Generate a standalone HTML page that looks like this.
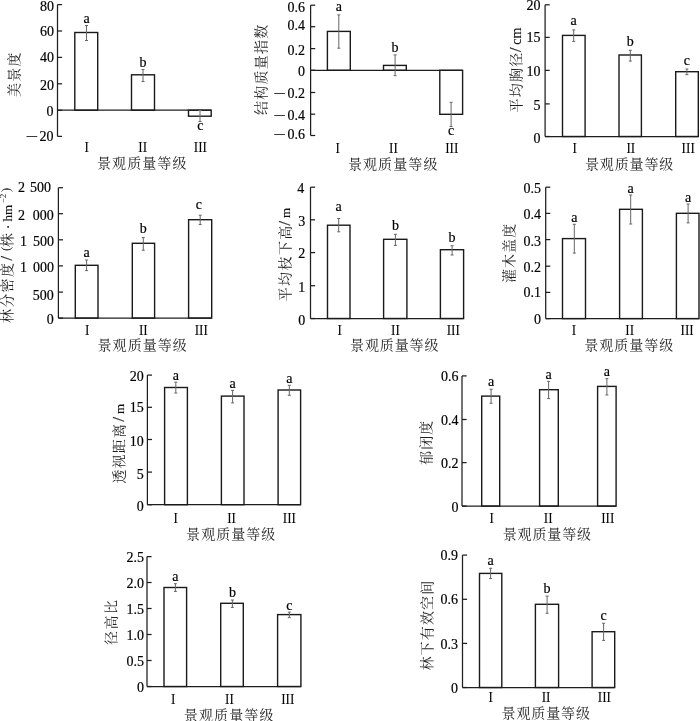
<!DOCTYPE html>
<html><head><meta charset="utf-8"><title>figure</title>
<style>
html,body{margin:0;padding:0;background:#fff;}
body{width:700px;height:721px;overflow:hidden;}
svg{display:block;will-change:transform;}
text.n{font-family:'Liberation Serif', 'Times New Roman', serif;font-size:14px;fill:#000;stroke:#000;stroke-width:0.18px;}
text.mn{font-family:'Liberation Serif', 'Times New Roman', serif;font-size:14px;fill:#111;}
text.l{font-family:'Liberation Serif', 'Times New Roman', serif;font-size:14px;fill:#000;stroke:#000;stroke-width:0.18px;}
text.r{font-family:'Liberation Serif', 'Times New Roman', serif;font-size:15.5px;fill:#000;stroke:#000;stroke-width:0.05px;letter-spacing:0px;}
text.c{font-family:'Liberation Serif', 'Noto Serif CJK SC', serif;font-size:14px;fill:#1e1e1e;}
.yc{font-family:'Liberation Serif', 'Noto Serif CJK SC', serif;font-size:14px;fill:#1e1e1e;}
.y14{font-family:'Liberation Serif', 'Times New Roman', serif;font-size:14px;fill:#111;stroke:#111;stroke-width:0.15px;}
.y13{font-family:'Liberation Serif', 'Times New Roman', serif;font-size:13px;fill:#111;stroke:#111;stroke-width:0.15px;}
.y16{font-family:'Liberation Serif', 'Times New Roman', serif;font-size:16px;fill:#222;stroke:#222;stroke-width:0.25px;}
.yp{font-family:'Liberation Serif', 'Times New Roman', serif;font-size:13.5px;fill:#222;}
.ys{font-family:'Liberation Serif', 'Times New Roman', serif;font-size:9px;fill:#222;}
</style></head>
<body>
<svg width="700" height="721" viewBox="0 0 700 721">
<rect width="700" height="721" fill="#fff"/>
<path d="M57.5 4.6V136.4" stroke="#1e1e1e" stroke-width="1.25" fill="none"/>
<path d="M57.5 4.6H62.1" stroke="#1e1e1e" stroke-width="1.25"/>
<text class="n" x="54" y="10.75" text-anchor="end">80</text>
<path d="M57.5 31H62.1" stroke="#1e1e1e" stroke-width="1.25"/>
<text class="n" x="54" y="36.4" text-anchor="end">60</text>
<path d="M57.5 57.4H62.1" stroke="#1e1e1e" stroke-width="1.25"/>
<text class="n" x="54" y="62.35" text-anchor="end">40</text>
<path d="M57.5 83.8H62.1" stroke="#1e1e1e" stroke-width="1.25"/>
<text class="n" x="54" y="89.85" text-anchor="end">20</text>
<path d="M57.5 110.2H62.1" stroke="#1e1e1e" stroke-width="1.25"/>
<text class="n" x="53.6" y="116.1" text-anchor="end">0</text>
<path d="M57.5 136.4H62.1" stroke="#1e1e1e" stroke-width="1.25"/>
<text class="n" x="53.6" y="140.6" text-anchor="end">20</text>
<text class="n" transform="translate(38.3 140.6) scale(1.6 1)" text-anchor="end">−</text>
<path d="M57.5 110.2H211.2" stroke="#1e1e1e" stroke-width="1.25"/>
<rect x="74.8" y="32.5" width="22.9" height="77.7" fill="none" stroke="#1a1a1a" stroke-width="1.4"/>
<rect x="131.5" y="74.8" width="23" height="35.4" fill="none" stroke="#1a1a1a" stroke-width="1.4"/>
<rect x="188.5" y="110.2" width="22.7" height="6" fill="none" stroke="#1a1a1a" stroke-width="1.4"/>
<path d="M86.5 25.5V40.5 M85 25.5H88 M85 40.5H88" stroke="#666" stroke-width="1.0" fill="none"/>
<path d="M143 69.5V81.5 M141.5 69.5H144.5 M141.5 81.5H144.5" stroke="#666" stroke-width="1.0" fill="none"/>
<path d="M200 110.5V121.5 M198.5 110.5H201.5 M198.5 121.5H201.5" stroke="#666" stroke-width="1.0" fill="none"/>
<text class="l" x="86.5" y="23.3" text-anchor="middle">a</text>
<text class="l" x="143" y="67.3" text-anchor="middle">b</text>
<text class="l" x="200.3" y="130" text-anchor="middle">c</text>
<text class="r" transform="translate(86.6 152.1) scale(0.85 1)" text-anchor="middle">I</text>
<text class="r" transform="translate(142.7 152.1) scale(0.85 1)" text-anchor="middle">II</text>
<text class="r" transform="translate(200.4 152.1) scale(0.85 1)" text-anchor="middle">III</text>
<text class="c" x="97" y="167.5" textLength="89.4" lengthAdjust="spacing">景观质量等级</text>
<path d="M310.6 5.2V135.5" stroke="#1e1e1e" stroke-width="1.25" fill="none"/>
<path d="M310.6 5.2H315.2" stroke="#1e1e1e" stroke-width="1.25"/>
<text class="n" x="305" y="11.85" text-anchor="end">0.6</text>
<path d="M310.6 26.7H315.2" stroke="#1e1e1e" stroke-width="1.25"/>
<text class="n" x="305" y="30.35" text-anchor="end">0.4</text>
<path d="M310.6 48.6H315.2" stroke="#1e1e1e" stroke-width="1.25"/>
<text class="n" x="305" y="54.85" text-anchor="end">0.2</text>
<path d="M310.6 70.3H315.2" stroke="#1e1e1e" stroke-width="1.25"/>
<text class="n" x="305" y="76.1" text-anchor="end">0</text>
<path d="M310.6 92.5H315.2" stroke="#1e1e1e" stroke-width="1.25"/>
<text class="n" x="305" y="97.8" text-anchor="end">0.2</text>
<text class="n" transform="translate(286.2 97.8) scale(1.6 1)" text-anchor="end">−</text>
<path d="M310.6 114.2H315.2" stroke="#1e1e1e" stroke-width="1.25"/>
<text class="n" x="305" y="119.9" text-anchor="end">0.4</text>
<text class="n" transform="translate(286.2 119.9) scale(1.6 1)" text-anchor="end">−</text>
<path d="M310.6 135.5H315.2" stroke="#1e1e1e" stroke-width="1.25"/>
<text class="n" x="305" y="139.4" text-anchor="end">0.6</text>
<text class="n" transform="translate(286.2 139.4) scale(1.6 1)" text-anchor="end">−</text>
<path d="M310.6 70.3H462.6" stroke="#1e1e1e" stroke-width="1.25"/>
<rect x="327.4" y="31.4" width="22.9" height="38.9" fill="none" stroke="#1a1a1a" stroke-width="1.4"/>
<rect x="383.5" y="65.4" width="22.8" height="4.9" fill="none" stroke="#1a1a1a" stroke-width="1.4"/>
<rect x="439.8" y="70.3" width="22.8" height="44" fill="none" stroke="#1a1a1a" stroke-width="1.4"/>
<path d="M338.8 14.9V48.2 M337.3 14.9H340.3 M337.3 48.2H340.3" stroke="#666" stroke-width="1.0" fill="none"/>
<path d="M395.1 54.9V75.7 M393.6 54.9H396.6 M393.6 75.7H396.6" stroke="#666" stroke-width="1.0" fill="none"/>
<path d="M451.1 102.3V126.5 M449.6 102.3H452.6 M449.6 126.5H452.6" stroke="#666" stroke-width="1.0" fill="none"/>
<text class="l" x="338.8" y="11.3" text-anchor="middle">a</text>
<text class="l" x="395.1" y="51.5" text-anchor="middle">b</text>
<text class="l" x="451.1" y="135.2" text-anchor="middle">c</text>
<text class="r" transform="translate(337.8 153.1) scale(0.85 1)" text-anchor="middle">I</text>
<text class="r" transform="translate(393.5 153.1) scale(0.85 1)" text-anchor="middle">II</text>
<text class="r" transform="translate(451.8 153.1) scale(0.85 1)" text-anchor="middle">III</text>
<text class="c" x="347.9" y="169" textLength="89.5" lengthAdjust="spacing">景观质量等级</text>
<path d="M545.1 4.8V136.5" stroke="#1e1e1e" stroke-width="1.25" fill="none"/>
<path d="M545.1 4.8H549.7" stroke="#1e1e1e" stroke-width="1.25"/>
<text class="n" x="540.4" y="9.85" text-anchor="end">20</text>
<path d="M545.1 37.4H549.7" stroke="#1e1e1e" stroke-width="1.25"/>
<text class="n" x="540.4" y="42.1" text-anchor="end">15</text>
<path d="M545.1 70.4H549.7" stroke="#1e1e1e" stroke-width="1.25"/>
<text class="n" x="540.4" y="75.85" text-anchor="end">10</text>
<path d="M545.1 103.9H549.7" stroke="#1e1e1e" stroke-width="1.25"/>
<text class="n" x="540.4" y="109.6" text-anchor="end">5</text>
<path d="M545.1 136.5H549.7" stroke="#1e1e1e" stroke-width="1.25"/>
<text class="n" x="540.4" y="142.8" text-anchor="end">0</text>
<path d="M545.1 136.5H698.3" stroke="#1e1e1e" stroke-width="1.25"/>
<rect x="562.5" y="35.4" width="22.6" height="101.1" fill="none" stroke="#1a1a1a" stroke-width="1.4"/>
<rect x="619" y="55" width="22.4" height="81.5" fill="none" stroke="#1a1a1a" stroke-width="1.4"/>
<rect x="675.7" y="71.7" width="22.6" height="64.8" fill="none" stroke="#1a1a1a" stroke-width="1.4"/>
<path d="M573.7 29.9V41.4 M572.2 29.9H575.2 M572.2 41.4H575.2" stroke="#666" stroke-width="1.0" fill="none"/>
<path d="M630.3 50.3V61.1 M628.8 50.3H631.8 M628.8 61.1H631.8" stroke="#666" stroke-width="1.0" fill="none"/>
<path d="M686.9 69V74.7 M685.4 69H688.4 M685.4 74.7H688.4" stroke="#666" stroke-width="1.0" fill="none"/>
<text class="l" x="573.7" y="24.9" text-anchor="middle">a</text>
<text class="l" x="630.3" y="45.5" text-anchor="middle">b</text>
<text class="l" x="686.9" y="64.8" text-anchor="middle">c</text>
<text class="r" transform="translate(574.6 152.5) scale(0.85 1)" text-anchor="middle">I</text>
<text class="r" transform="translate(630.8 152.5) scale(0.85 1)" text-anchor="middle">II</text>
<text class="r" transform="translate(688.2 152.5) scale(0.85 1)" text-anchor="middle">III</text>
<text class="c" x="585" y="169" textLength="88.3" lengthAdjust="spacing">景观质量等级</text>
<path d="M58.4 187.7V318.1" stroke="#1e1e1e" stroke-width="1.25" fill="none"/>
<path d="M58.4 187.7H63" stroke="#1e1e1e" stroke-width="1.25"/>
<text class="n" x="24.9" y="192.45" text-anchor="end">2</text>
<text class="n" x="51" y="192.45" text-anchor="end">500</text>
<path d="M58.4 213.7H63" stroke="#1e1e1e" stroke-width="1.25"/>
<text class="n" x="24.9" y="219.75" text-anchor="end">2</text>
<text class="n" x="53.8" y="219.75" text-anchor="end">000</text>
<path d="M58.4 239.8H63" stroke="#1e1e1e" stroke-width="1.25"/>
<text class="n" x="27" y="246.25" text-anchor="end">1</text>
<text class="n" x="54" y="246.25" text-anchor="end">500</text>
<path d="M58.4 265.9H63" stroke="#1e1e1e" stroke-width="1.25"/>
<text class="n" x="27" y="272.05" text-anchor="end">1</text>
<text class="n" x="54" y="272.05" text-anchor="end">000</text>
<path d="M58.4 292.1H63" stroke="#1e1e1e" stroke-width="1.25"/>
<text class="n" x="53.7" y="299.65" text-anchor="end">500</text>
<path d="M58.4 318.1H63" stroke="#1e1e1e" stroke-width="1.25"/>
<text class="n" x="53.7" y="323.6" text-anchor="end">0</text>
<path d="M58.4 318.1H211.7" stroke="#1e1e1e" stroke-width="1.25"/>
<rect x="75.3" y="265.3" width="22.7" height="52.8" fill="none" stroke="#1a1a1a" stroke-width="1.4"/>
<rect x="132.3" y="243.3" width="22.3" height="74.8" fill="none" stroke="#1a1a1a" stroke-width="1.4"/>
<rect x="188.6" y="219.7" width="23.1" height="98.4" fill="none" stroke="#1a1a1a" stroke-width="1.4"/>
<path d="M86.6 260V270.6 M85.1 260H88.1 M85.1 270.6H88.1" stroke="#666" stroke-width="1.0" fill="none"/>
<path d="M143.3 237.6V250.2 M141.8 237.6H144.8 M141.8 250.2H144.8" stroke="#666" stroke-width="1.0" fill="none"/>
<path d="M200.2 215.2V224.6 M198.7 215.2H201.7 M198.7 224.6H201.7" stroke="#666" stroke-width="1.0" fill="none"/>
<text class="l" x="86.6" y="256.6" text-anchor="middle">a</text>
<text class="l" x="143.3" y="232.9" text-anchor="middle">b</text>
<text class="l" x="198.8" y="208.9" text-anchor="middle">c</text>
<text class="r" transform="translate(87.2 334.8) scale(0.85 1)" text-anchor="middle">I</text>
<text class="r" transform="translate(143.3 334.8) scale(0.85 1)" text-anchor="middle">II</text>
<text class="r" transform="translate(201.3 334.8) scale(0.85 1)" text-anchor="middle">III</text>
<text class="c" x="97.6" y="350.2" textLength="89.1" lengthAdjust="spacing">景观质量等级</text>
<path d="M310.5 187.2V318.5" stroke="#1e1e1e" stroke-width="1.25" fill="none"/>
<path d="M310.5 187.2H315.1" stroke="#1e1e1e" stroke-width="1.25"/>
<text class="n" x="304.2" y="192.6" text-anchor="end">4</text>
<path d="M310.5 219.8H315.1" stroke="#1e1e1e" stroke-width="1.25"/>
<text class="n" x="305.2" y="226.35" text-anchor="end">3</text>
<path d="M310.5 252.6H315.1" stroke="#1e1e1e" stroke-width="1.25"/>
<text class="n" x="305.2" y="258.35" text-anchor="end">2</text>
<path d="M310.5 285.7H315.1" stroke="#1e1e1e" stroke-width="1.25"/>
<text class="n" x="305.2" y="291.95" text-anchor="end">1</text>
<path d="M310.5 318.5H315.1" stroke="#1e1e1e" stroke-width="1.25"/>
<text class="n" x="305.2" y="324.6" text-anchor="end">0</text>
<path d="M310.5 318.5H463.6" stroke="#1e1e1e" stroke-width="1.25"/>
<rect x="327.5" y="225.2" width="22.5" height="93.3" fill="none" stroke="#1a1a1a" stroke-width="1.4"/>
<rect x="383.6" y="239.3" width="23.3" height="79.2" fill="none" stroke="#1a1a1a" stroke-width="1.4"/>
<rect x="440.4" y="249.7" width="23.2" height="68.8" fill="none" stroke="#1a1a1a" stroke-width="1.4"/>
<path d="M338.7 218.5V231.8 M337.2 218.5H340.2 M337.2 231.8H340.2" stroke="#666" stroke-width="1.0" fill="none"/>
<path d="M395.4 234.3V245.4 M393.9 234.3H396.9 M393.9 245.4H396.9" stroke="#666" stroke-width="1.0" fill="none"/>
<path d="M452.1 245.7V255 M450.6 245.7H453.6 M450.6 255H453.6" stroke="#666" stroke-width="1.0" fill="none"/>
<text class="l" x="338.7" y="211.3" text-anchor="middle">a</text>
<text class="l" x="395.4" y="230.2" text-anchor="middle">b</text>
<text class="l" x="452.1" y="242.2" text-anchor="middle">b</text>
<text class="r" transform="translate(339.7 334.7) scale(0.85 1)" text-anchor="middle">I</text>
<text class="r" transform="translate(395.4 334.7) scale(0.85 1)" text-anchor="middle">II</text>
<text class="r" transform="translate(453.3 334.7) scale(0.85 1)" text-anchor="middle">III</text>
<text class="c" x="350" y="350.3" textLength="88.5" lengthAdjust="spacing">景观质量等级</text>
<path d="M545.7 187.2V318.6" stroke="#1e1e1e" stroke-width="1.25" fill="none"/>
<path d="M545.7 187.2H550.3" stroke="#1e1e1e" stroke-width="1.25"/>
<text class="n" x="541.1" y="192.85" text-anchor="end">0.5</text>
<path d="M545.7 213.4H550.3" stroke="#1e1e1e" stroke-width="1.25"/>
<text class="n" x="541.1" y="218.85" text-anchor="end">0.4</text>
<path d="M545.7 239.6H550.3" stroke="#1e1e1e" stroke-width="1.25"/>
<text class="n" x="541.1" y="245.85" text-anchor="end">0.3</text>
<path d="M545.7 266.2H550.3" stroke="#1e1e1e" stroke-width="1.25"/>
<text class="n" x="541.1" y="272.35" text-anchor="end">0.2</text>
<path d="M545.7 292.4H550.3" stroke="#1e1e1e" stroke-width="1.25"/>
<text class="n" x="541.1" y="296.85" text-anchor="end">0.1</text>
<path d="M545.7 318.6H550.3" stroke="#1e1e1e" stroke-width="1.25"/>
<text class="n" x="541.1" y="323.9" text-anchor="end">0</text>
<path d="M545.7 318.6H699" stroke="#1e1e1e" stroke-width="1.25"/>
<rect x="562.5" y="238.6" width="23" height="80" fill="none" stroke="#1a1a1a" stroke-width="1.4"/>
<rect x="619.6" y="209.3" width="22.8" height="109.3" fill="none" stroke="#1a1a1a" stroke-width="1.4"/>
<rect x="676.4" y="213.3" width="22.6" height="105.3" fill="none" stroke="#1a1a1a" stroke-width="1.4"/>
<path d="M574.3 224.3V253.1 M572.8 224.3H575.8 M572.8 253.1H575.8" stroke="#666" stroke-width="1.0" fill="none"/>
<path d="M630.7 195V224 M629.2 195H632.2 M629.2 224H632.2" stroke="#666" stroke-width="1.0" fill="none"/>
<path d="M688.1 204V222.9 M686.6 204H689.6 M686.6 222.9H689.6" stroke="#666" stroke-width="1.0" fill="none"/>
<text class="l" x="574.3" y="221.5" text-anchor="middle">a</text>
<text class="l" x="630.7" y="192.7" text-anchor="middle">a</text>
<text class="l" x="688.1" y="201.5" text-anchor="middle">a</text>
<text class="r" transform="translate(574 334.9) scale(0.85 1)" text-anchor="middle">I</text>
<text class="r" transform="translate(629.7 334.9) scale(0.85 1)" text-anchor="middle">II</text>
<text class="r" transform="translate(687.1 334.9) scale(0.85 1)" text-anchor="middle">III</text>
<text class="c" x="584.3" y="350.3" textLength="88.9" lengthAdjust="spacing">景观质量等级</text>
<path d="M147.4 375.1V504.7" stroke="#1e1e1e" stroke-width="1.25" fill="none"/>
<path d="M147.4 375.1H152" stroke="#1e1e1e" stroke-width="1.25"/>
<text class="n" x="143.8" y="381.1" text-anchor="end">20</text>
<path d="M147.4 407.3H152" stroke="#1e1e1e" stroke-width="1.25"/>
<text class="n" x="143.8" y="412.35" text-anchor="end">15</text>
<path d="M147.4 439.5H152" stroke="#1e1e1e" stroke-width="1.25"/>
<text class="n" x="143.8" y="446.1" text-anchor="end">10</text>
<path d="M147.4 472.1H152" stroke="#1e1e1e" stroke-width="1.25"/>
<text class="n" x="143.8" y="478.75" text-anchor="end">5</text>
<path d="M147.4 504.7H152" stroke="#1e1e1e" stroke-width="1.25"/>
<text class="n" x="143.8" y="510.85" text-anchor="end">0</text>
<path d="M147.4 504.7H300.6" stroke="#1e1e1e" stroke-width="1.25"/>
<rect x="164.6" y="387.5" width="22.8" height="117.2" fill="none" stroke="#1a1a1a" stroke-width="1.4"/>
<rect x="221.4" y="396.1" width="22.6" height="108.6" fill="none" stroke="#1a1a1a" stroke-width="1.4"/>
<rect x="278.1" y="390" width="22.5" height="114.7" fill="none" stroke="#1a1a1a" stroke-width="1.4"/>
<path d="M175.8 382.1V393 M174.3 382.1H177.3 M174.3 393H177.3" stroke="#666" stroke-width="1.0" fill="none"/>
<path d="M232.6 390.4V402.9 M231.1 390.4H234.1 M231.1 402.9H234.1" stroke="#666" stroke-width="1.0" fill="none"/>
<path d="M289.3 385.3V395.3 M287.8 385.3H290.8 M287.8 395.3H290.8" stroke="#666" stroke-width="1.0" fill="none"/>
<text class="l" x="175.8" y="379.7" text-anchor="middle">a</text>
<text class="l" x="232.6" y="388.1" text-anchor="middle">a</text>
<text class="l" x="289.3" y="383.1" text-anchor="middle">a</text>
<text class="r" transform="translate(175.8 523.2) scale(0.85 1)" text-anchor="middle">I</text>
<text class="r" transform="translate(231.6 523.2) scale(0.85 1)" text-anchor="middle">II</text>
<text class="r" transform="translate(289.4 523.2) scale(0.85 1)" text-anchor="middle">III</text>
<text class="c" x="186.1" y="539.3" textLength="89.2" lengthAdjust="spacing">景观质量等级</text>
<path d="M462 375.9V506.1" stroke="#1e1e1e" stroke-width="1.25" fill="none"/>
<path d="M462 375.9H466.6" stroke="#1e1e1e" stroke-width="1.25"/>
<text class="n" x="458.6" y="381.35" text-anchor="end">0.6</text>
<path d="M462 419.5H466.6" stroke="#1e1e1e" stroke-width="1.25"/>
<text class="n" x="458.6" y="425.35" text-anchor="end">0.4</text>
<path d="M462 462.6H466.6" stroke="#1e1e1e" stroke-width="1.25"/>
<text class="n" x="458.6" y="467.6" text-anchor="end">0.2</text>
<path d="M462 506.1H466.6" stroke="#1e1e1e" stroke-width="1.25"/>
<text class="n" x="458.6" y="511.6" text-anchor="end">0</text>
<path d="M462 506.1H616.1" stroke="#1e1e1e" stroke-width="1.25"/>
<rect x="481.7" y="396.1" width="18" height="110" fill="none" stroke="#1a1a1a" stroke-width="1.4"/>
<rect x="539.6" y="389.7" width="18.7" height="116.4" fill="none" stroke="#1a1a1a" stroke-width="1.4"/>
<rect x="597.6" y="386.4" width="18.5" height="119.7" fill="none" stroke="#1a1a1a" stroke-width="1.4"/>
<path d="M491.1 389.3V403.3 M489.6 389.3H492.6 M489.6 403.3H492.6" stroke="#666" stroke-width="1.0" fill="none"/>
<path d="M548.6 381.4V398.6 M547.1 381.4H550.1 M547.1 398.6H550.1" stroke="#666" stroke-width="1.0" fill="none"/>
<path d="M606.9 378.6V395 M605.4 378.6H608.4 M605.4 395H608.4" stroke="#666" stroke-width="1.0" fill="none"/>
<text class="l" x="491.1" y="385.9" text-anchor="middle">a</text>
<text class="l" x="548.6" y="379.1" text-anchor="middle">a</text>
<text class="l" x="606.9" y="376.2" text-anchor="middle">a</text>
<text class="r" transform="translate(491.7 522.8) scale(0.85 1)" text-anchor="middle">I</text>
<text class="r" transform="translate(548.2 522.8) scale(0.85 1)" text-anchor="middle">II</text>
<text class="r" transform="translate(607.8 522.8) scale(0.85 1)" text-anchor="middle">III</text>
<text class="c" x="502.7" y="539.3" textLength="88.4" lengthAdjust="spacing">景观质量等级</text>
<path d="M147 556.6V686.5" stroke="#1e1e1e" stroke-width="1.25" fill="none"/>
<path d="M147 556.6H151.6" stroke="#1e1e1e" stroke-width="1.25"/>
<text class="n" x="144" y="561.85" text-anchor="end">2.5</text>
<path d="M147 582.5H151.6" stroke="#1e1e1e" stroke-width="1.25"/>
<text class="n" x="144" y="587.85" text-anchor="end">2.0</text>
<path d="M147 608.5H151.6" stroke="#1e1e1e" stroke-width="1.25"/>
<text class="n" x="144" y="613.85" text-anchor="end">1.5</text>
<path d="M147 634.5H151.6" stroke="#1e1e1e" stroke-width="1.25"/>
<text class="n" x="144" y="639.85" text-anchor="end">1.0</text>
<path d="M147 660.5H151.6" stroke="#1e1e1e" stroke-width="1.25"/>
<text class="n" x="144" y="666.35" text-anchor="end">0.5</text>
<path d="M147 686.5H151.6" stroke="#1e1e1e" stroke-width="1.25"/>
<text class="n" x="144" y="691.9" text-anchor="end">0</text>
<path d="M147 686.5H300.9" stroke="#1e1e1e" stroke-width="1.25"/>
<rect x="164" y="587.5" width="22.6" height="99" fill="none" stroke="#1a1a1a" stroke-width="1.4"/>
<rect x="220.7" y="603.3" width="22.6" height="83.2" fill="none" stroke="#1a1a1a" stroke-width="1.4"/>
<rect x="277.6" y="614.6" width="23.3" height="71.9" fill="none" stroke="#1a1a1a" stroke-width="1.4"/>
<path d="M175.4 583.7V591.4 M173.9 583.7H176.9 M173.9 591.4H176.9" stroke="#666" stroke-width="1.0" fill="none"/>
<path d="M232.4 600V607.4 M230.9 600H233.9 M230.9 607.4H233.9" stroke="#666" stroke-width="1.0" fill="none"/>
<path d="M289.3 612.1V617.6 M287.8 612.1H290.8 M287.8 617.6H290.8" stroke="#666" stroke-width="1.0" fill="none"/>
<text class="l" x="175.4" y="580.7" text-anchor="middle">a</text>
<text class="l" x="232.4" y="597.4" text-anchor="middle">b</text>
<text class="l" x="289.3" y="610.2" text-anchor="middle">c</text>
<text class="r" transform="translate(173.3 703.6) scale(0.85 1)" text-anchor="middle">I</text>
<text class="r" transform="translate(229.5 703.6) scale(0.85 1)" text-anchor="middle">II</text>
<text class="r" transform="translate(287.8 703.6) scale(0.85 1)" text-anchor="middle">III</text>
<text class="c" x="183.8" y="719.5" textLength="89.6" lengthAdjust="spacing">景观质量等级</text>
<path d="M462.5 555.1V687.5" stroke="#1e1e1e" stroke-width="1.25" fill="none"/>
<path d="M462.5 555.1H467.1" stroke="#1e1e1e" stroke-width="1.25"/>
<text class="n" x="458" y="559.85" text-anchor="end">0.9</text>
<path d="M462.5 599.3H467.1" stroke="#1e1e1e" stroke-width="1.25"/>
<text class="n" x="458" y="603.85" text-anchor="end">0.6</text>
<path d="M462.5 643.4H467.1" stroke="#1e1e1e" stroke-width="1.25"/>
<text class="n" x="458" y="648.85" text-anchor="end">0.3</text>
<path d="M462.5 687.5H467.1" stroke="#1e1e1e" stroke-width="1.25"/>
<text class="n" x="458" y="693.1" text-anchor="end">0</text>
<path d="M462.5 687.5H614.7" stroke="#1e1e1e" stroke-width="1.25"/>
<rect x="479.5" y="573.4" width="22.3" height="114.1" fill="none" stroke="#1a1a1a" stroke-width="1.4"/>
<rect x="535.4" y="604.3" width="23.2" height="83.2" fill="none" stroke="#1a1a1a" stroke-width="1.4"/>
<rect x="592.1" y="631.7" width="22.6" height="55.8" fill="none" stroke="#1a1a1a" stroke-width="1.4"/>
<path d="M490.6 568.3V578.6 M489.1 568.3H492.1 M489.1 578.6H492.1" stroke="#666" stroke-width="1.0" fill="none"/>
<path d="M547.1 596.1V613.3 M545.6 596.1H548.6 M545.6 613.3H548.6" stroke="#666" stroke-width="1.0" fill="none"/>
<path d="M603.6 623.3V640.4 M602.1 623.3H605.1 M602.1 640.4H605.1" stroke="#666" stroke-width="1.0" fill="none"/>
<text class="l" x="490.6" y="565.2" text-anchor="middle">a</text>
<text class="l" x="547.1" y="592.7" text-anchor="middle">b</text>
<text class="l" x="603.6" y="620.1" text-anchor="middle">c</text>
<text class="r" transform="translate(490.6 702.1) scale(0.85 1)" text-anchor="middle">I</text>
<text class="r" transform="translate(546.1 702.1) scale(0.85 1)" text-anchor="middle">II</text>
<text class="r" transform="translate(604.4 702.1) scale(0.85 1)" text-anchor="middle">III</text>
<text class="c" x="501.5" y="718" textLength="88.5" lengthAdjust="spacing">景观质量等级</text>
<text transform="translate(19.45 97) rotate(-90)"><tspan class="yc" x="0" y="-0">美</tspan><tspan class="yc" x="15.3" y="-0">景</tspan><tspan class="yc" x="30.6" y="-0">度</tspan></text>
<text transform="translate(265.6 114.9) rotate(-90)"><tspan class="yc" x="0" y="-0">结</tspan><tspan class="yc" x="15.22" y="-0">构</tspan><tspan class="yc" x="30.44" y="-0">质</tspan><tspan class="yc" x="45.66" y="-0">量</tspan><tspan class="yc" x="60.88" y="-0">指</tspan><tspan class="yc" x="76.1" y="-0">数</tspan></text>
<text transform="translate(521.3 112.6) rotate(-90)"><tspan class="yc" x="0" y="-0">平</tspan><tspan class="yc" x="15.3" y="-0">均</tspan><tspan class="yc" x="30.6" y="-0">胸</tspan><tspan class="yc" x="45.9" y="-0">径</tspan><tspan class="y16" x="60.7" y="0">/</tspan><tspan class="y14" x="67.8" y="0">cm</tspan></text>
<text transform="translate(12.2 323) rotate(-90)"><tspan class="yc" x="0" y="-0">林</tspan><tspan class="yc" x="15.3" y="-0">分</tspan><tspan class="yc" x="30.6" y="-0">密</tspan><tspan class="yc" x="45.9" y="-0">度</tspan><tspan class="y16" x="62.5" y="0">/</tspan><tspan class="yp" x="71.9" y="-2.1">(</tspan><tspan class="yc" x="76.1" y="0">株</tspan><tspan class="y14" x="93.8" y="1.2">·</tspan><tspan class="y13" x="101.5" y="0">hm</tspan><tspan class="ys" x="119.65" y="-6.4">−2</tspan><tspan class="yp" x="130.8" y="-2.1">)</tspan></text>
<text transform="translate(290 301.3) rotate(-90)"><tspan class="yc" x="0" y="-0">平</tspan><tspan class="yc" x="15.4" y="-0">均</tspan><tspan class="yc" x="30.8" y="-0">枝</tspan><tspan class="yc" x="46.2" y="-0">下</tspan><tspan class="yc" x="61.6" y="-0">高</tspan><tspan class="y16" x="75.8" y="0">/</tspan><tspan class="y13" x="83.3" y="0">m</tspan></text>
<text transform="translate(513.6 283.1) rotate(-90)"><tspan class="yc" x="0" y="-0">灌</tspan><tspan class="yc" x="15.1" y="-0">木</tspan><tspan class="yc" x="30.2" y="-0">盖</tspan><tspan class="yc" x="45.3" y="-0">度</tspan></text>
<text transform="translate(124 483.6) rotate(-90)"><tspan class="yc" x="0" y="-0">透</tspan><tspan class="yc" x="15.23" y="-0">视</tspan><tspan class="yc" x="30.46" y="-0">距</tspan><tspan class="yc" x="45.69" y="-0">离</tspan><tspan class="y16" x="62.2" y="0">/</tspan><tspan class="y13" x="69.6" y="0">m</tspan></text>
<text transform="translate(431.2 464.9) rotate(-90)"><tspan class="yc" x="0" y="-0">郁</tspan><tspan class="yc" x="15.1" y="-0">闭</tspan><tspan class="yc" x="30.2" y="-0">度</tspan></text>
<text transform="translate(115.6 644.9) rotate(-90)"><tspan class="yc" x="0" y="-0">径</tspan><tspan class="yc" x="15.4" y="-0">高</tspan><tspan class="yc" x="30.8" y="-0">比</tspan></text>
<text transform="translate(432 670.6) rotate(-90)"><tspan class="yc" x="0" y="-0">林</tspan><tspan class="yc" x="15.17" y="-0">下</tspan><tspan class="yc" x="30.34" y="-0">有</tspan><tspan class="yc" x="45.51" y="-0">效</tspan><tspan class="yc" x="60.68" y="-0">空</tspan><tspan class="yc" x="75.85" y="-0">间</tspan></text>
</svg>
</body></html>
